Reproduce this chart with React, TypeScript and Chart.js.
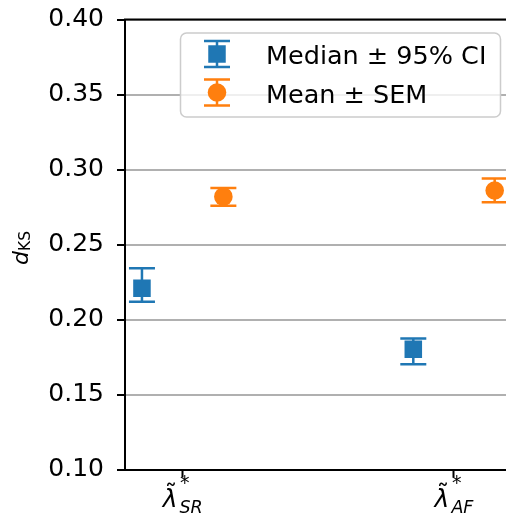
import { useEffect, useRef } from 'react';
import { Chart, registerables } from 'chart.js';

Chart.register(...registerables);

// ---- data ----
const categories = ['SR', 'AF'];
const seriesLabels = ['Median ± 95% CI', 'Mean ± SEM'];
const medianValues = [0.2209, 0.1802];
const medianCILow = [0.2118, 0.1702];
const medianCIHigh = [0.2341, 0.1873];
const meanValues = [0.2819, 0.286];
const meanSEMLow = [0.2759, 0.2782];
const meanSEMHigh = [0.2876, 0.294];
const yTicks = [0.1, 0.15, 0.2, 0.25, 0.3, 0.35, 0.4];

// ---- style / layout ----
const BLUE = '#1f77b4';
const ORANGE = '#ff7f0e';
const OFFSET = 0.15;
const X_MIN = -0.2125;
const X_MAX = 1.2344;
const FONT = "'DejaVu Sans'";

const errorBarPlugin = {
  id: 'errorBars',
  beforeDatasetsDraw(chart: any) {
    const ctx = chart.ctx;
    const xs = chart.scales.x;
    const ys = chart.scales.y;
    chart.data.datasets.forEach((ds: any) => {
      ctx.save();
      ctx.strokeStyle = ds.backgroundColor;
      ctx.lineWidth = 2.5;
      ds.data.forEach((p: any, i: number) => {
        const x = xs.getPixelForValue(p.x);
        const y1 = ys.getPixelForValue(ds.errLow[i]);
        const y2 = ys.getPixelForValue(ds.errHigh[i]);
        ctx.beginPath();
        ctx.moveTo(x, y1);
        ctx.lineTo(x, y2);
        ctx.moveTo(x - 13, y1);
        ctx.lineTo(x + 13, y1);
        ctx.moveTo(x - 13, y2);
        ctx.lineTo(x + 13, y2);
        ctx.stroke();
      });
      ctx.restore();
    });
  },
  afterDatasetsDraw(chart: any) {
    const ctx = chart.ctx;
    const a = chart.chartArea;
    ctx.save();
    ctx.strokeStyle = '#000';
    ctx.lineWidth = 2;
    ctx.beginPath();
    ctx.moveTo(a.left - 1, a.top);
    ctx.lineTo(a.right + 1, a.top);
    ctx.moveTo(a.right, a.top);
    ctx.lineTo(a.right, a.bottom);
    ctx.stroke();
    ctx.restore();
  },
};

const textPlugin = {
  id: 'mathText',
  afterDraw(chart: any) {
    const ctx = chart.ctx;
    const xs = chart.scales.x;
    ctx.save();
    ctx.fillStyle = '#000';
    ctx.textAlign = 'left';
    ctx.textBaseline = 'alphabetic';

    // x tick labels: lambda-tilde with * superscript and italic subscript
    const B = 507;
    categories.forEach((cat, i) => {
      const t = xs.getPixelForValue(i);
      ctx.font = `italic 25px ${FONT}`;
      const wL = ctx.measureText('λ').width;
      ctx.font = `italic 17.5px ${FONT}`;
      const wSub = ctx.measureText(cat).width;
      const total = wL + 2 + wSub;
      const x0 = t - total / 2;
      ctx.font = `italic 25px ${FONT}`;
      ctx.fillText('λ', x0, B);
      ctx.font = `25px ${FONT}`;
      const tm = ctx.measureText('˜');
      ctx.fillText('˜', x0 + wL / 2 - tm.width / 2 + 1, 485.5 - tm.actualBoundingBoxDescent);
      ctx.font = `19px ${FONT}`;
      const sm = ctx.measureText('*');
      ctx.fillText('*', x0 + wL + 2.5 - sm.actualBoundingBoxLeft, 475 + sm.actualBoundingBoxAscent);
      ctx.font = `italic 17.5px ${FONT}`;
      ctx.fillText(cat, x0 + wL + 2, 513);
    });

    // y axis title d_KS (rotated)
    ctx.save();
    ctx.font = `italic 22px ${FONT}`;
    const wd = ctx.measureText('d').width;
    ctx.font = `15.5px ${FONT}`;
    const wks = ctx.measureText('KS').width;
    const tot = wd + wks;
    ctx.translate(28, 248 + tot / 2);
    ctx.rotate(-Math.PI / 2);
    ctx.font = `italic 22px ${FONT}`;
    ctx.fillText('d', 0, 0);
    ctx.font = `15.5px ${FONT}`;
    ctx.fillText('KS', wd, 2);
    ctx.restore();

    // legend
    ctx.save();
    ctx.beginPath();
    (ctx as any).roundRect(180.5, 33, 320, 84, 6);
    ctx.fillStyle = 'rgba(255,255,255,0.8)';
    ctx.fill();
    ctx.strokeStyle = '#cccccc';
    ctx.lineWidth = 1.5;
    ctx.stroke();

    const mx = 217;
    const rows = [54, 92.5];
    const colors = [BLUE, ORANGE];
    rows.forEach((cy, r) => {
      ctx.strokeStyle = colors[r];
      ctx.fillStyle = colors[r];
      ctx.lineWidth = 2.5;
      ctx.beginPath();
      ctx.moveTo(mx, cy - 13);
      ctx.lineTo(mx, cy + 13);
      ctx.moveTo(mx - 13, cy - 13);
      ctx.lineTo(mx + 13, cy - 13);
      ctx.moveTo(mx - 13, cy + 13);
      ctx.lineTo(mx + 13, cy + 13);
      ctx.stroke();
      ctx.beginPath();
      if (r === 0) {
        ctx.rect(mx - 8.75, cy - 8.75, 17.5, 17.5);
      } else {
        ctx.arc(mx, cy, 9.3, 0, Math.PI * 2);
      }
      ctx.fill();
    });
    ctx.fillStyle = '#000';
    ctx.font = `25.5px ${FONT}`;
    ctx.fillText(seriesLabels[0], 266, 63.5);
    ctx.fillText(seriesLabels[1], 266, 102.5);
    ctx.restore();

    ctx.restore();
  },
};

export default function App() {
  const ref = useRef<HTMLCanvasElement>(null);

  useEffect(() => {
    if (!ref.current) return;
    const chart = new Chart(ref.current, {
      type: 'scatter',
      data: {
        datasets: [
          {
            label: seriesLabels[0],
            data: categories.map((_, i) => ({ x: i - OFFSET, y: medianValues[i] })),
            errLow: medianCILow,
            errHigh: medianCIHigh,
            backgroundColor: BLUE,
            borderWidth: 0,
            pointStyle: 'rect',
            pointRadius: 12.4,
          } as any,
          {
            label: seriesLabels[1],
            data: categories.map((_, i) => ({ x: i + OFFSET, y: meanValues[i] })),
            errLow: meanSEMLow,
            errHigh: meanSEMHigh,
            backgroundColor: ORANGE,
            borderWidth: 0,
            pointStyle: 'circle',
            pointRadius: 9.3,
          } as any,
        ],
      },
      options: {
        animation: false,
        responsive: false,
        devicePixelRatio: 1,
        layout: { padding: { top: 19.5, left: 0, right: 10, bottom: 0 } },
        plugins: { legend: { display: false }, tooltip: { enabled: false } },
        scales: {
          x: {
            type: 'linear',
            min: X_MIN,
            max: X_MAX,
            afterBuildTicks: (s: any) => {
              s.ticks = categories.map((_, i) => ({ value: i }));
            },
            afterFit: (s: any) => {
              s.height = 52.5;
              s.paddingLeft = 0;
              s.paddingRight = 0;
            },
            ticks: { callback: () => '', font: { family: FONT, size: 25 } },
            grid: { drawOnChartArea: false, tickColor: '#000', tickLength: 8, tickWidth: 2 },
            border: { color: '#000', width: 2 },
          },
          y: {
            min: 0.1,
            max: 0.4,
            afterBuildTicks: (s: any) => {
              s.ticks = yTicks.map((v) => ({ value: v }));
            },
            afterFit: (s: any) => {
              s.width = 125;
              s.paddingTop = 0;
              s.paddingBottom = 0;
            },
            ticks: {
              callback: (v: any) => Number(v).toFixed(2),
              font: { family: FONT, size: 25 },
              color: '#000',
              padding: 13,
            },
            grid: { color: '#b0b0b0', lineWidth: 2, tickColor: '#000', tickLength: 8, tickWidth: 2 },
            border: { color: '#000', width: 2 },
          },
        },
      } as any,
      plugins: [errorBarPlugin, textPlugin],
    });
    return () => chart.destroy();
  }, []);

  return (
    <div style={{ position: 'absolute', left: 0, top: 0, width: 506, height: 522, overflow: 'hidden', background: '#fff' }}>
      <canvas ref={ref} width={530} height={522} style={{ display: 'block' }} />
    </div>
  );
}
